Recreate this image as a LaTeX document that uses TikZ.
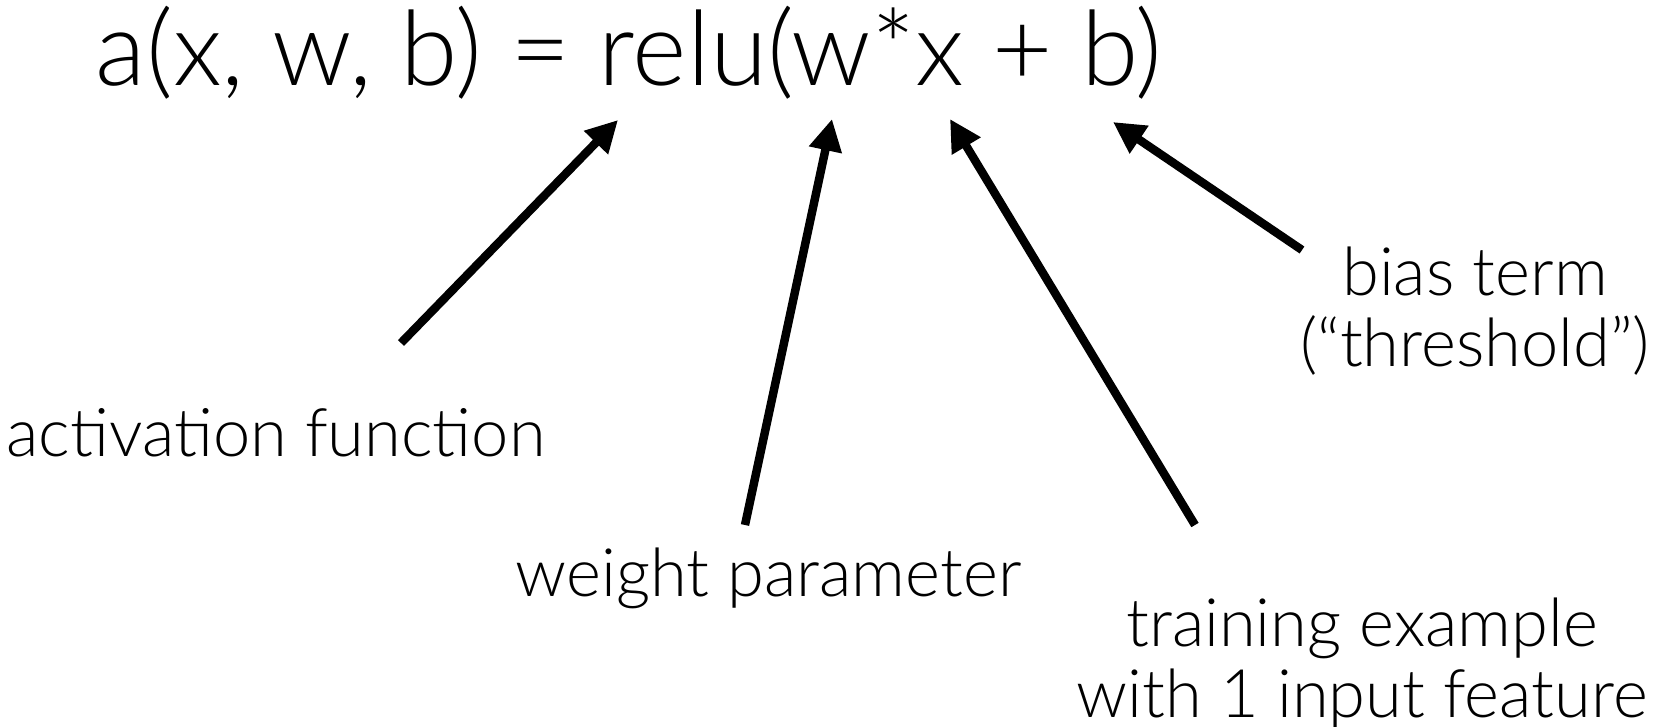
\documentclass[tikz,border=0pt]{standalone}
\usepackage{fontspec}
\setmainfont{Lato Light}
\usetikzlibrary{arrows.meta,positioning}
\tikzset{
	eqtext/.style={inner sep=0pt, font=\fontsize{29.6}{35}\selectfont},
	lbl/.style={inner sep=0pt, align=center, font=\fontsize{19}{20.2}\selectfont},
	parr/.style={-{Triangle[length=9pt,width=9pt]}, line width=2.4pt},
}

\begin{document}
\begin{tikzpicture}
	\useasboundingbox (0,0) rectangle (16.62,7.26);

	% Formula (top)
	\node[eqtext,anchor=base] at (6.29,6.41) (eq) {a(x, w, b) = relu(w*x + b)};

	% Labels
	\node[lbl,anchor=base] at (2.76,2.70)  (act)   {activation function};
	\node[lbl,anchor=base] at (7.685,1.30) (wgt)   {weight parameter};
	\node[lbl]             at (13.62,0.62) (train) {training example\\with 1 input feature};
	\node[lbl]             at (14.75,4.15) (bias)  {bias term\\(“threshold”)};

	% Arrow ends
	\coordinate (actS)   at (4.01,3.83);  \coordinate (actT)   at (6.18,6.06);
	\coordinate (wgtS)   at (7.45,2.01);  \coordinate (wgtT)   at (8.32,6.07);
	\coordinate (trainS) at (11.95,2.01); \coordinate (trainT) at (9.50,6.07);
	\coordinate (biasS)  at (13.02,4.76); \coordinate (biasT)  at (11.13,6.04);

	% Arrows
	\draw[parr] (actS)   -- (actT);
	\draw[parr] (wgtS)   -- (wgtT);
	\draw[parr] (trainS) -- (trainT);
	\draw[parr] (biasS)  -- (biasT);
\end{tikzpicture}
\end{document}
